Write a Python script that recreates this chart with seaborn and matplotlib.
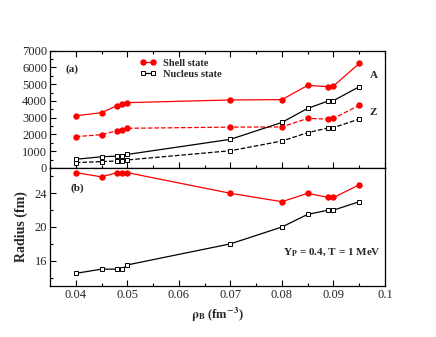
import numpy as np
import pandas as pd
import matplotlib
matplotlib.use("Agg")
import matplotlib.pyplot as plt
from matplotlib.ticker import MultipleLocator
from matplotlib.lines import Line2D
import seaborn as sns

rho = [0.04, 0.045, 0.048, 0.049, 0.05, 0.07, 0.08, 0.085, 0.089, 0.09, 0.095]
shell_A = [3120, 3300, 3720, 3800, 3900, 4060, 4080, 4930, 4850, 4890, 6240]
shell_Z = [1870, 1990, 2230, 2290, 2370, 2440, 2450, 2960, 2920, 2960, 3740]
nuc_A = [520, 670, 710, 740, 810, 1710, 2720, 3560, 4000, 4020, 4850]
nuc_Z = [320, 380, 420, 440, 480, 1030, 1610, 2110, 2390, 2410, 2920]
shell_R = [26.45, 25.95, 26.45, 26.45, 26.45, 24.0, 23.0, 24.0, 23.5, 23.5, 25.0]
nuc_R = [14.5, 15.0, 15.0, 15.0, 15.5, 18.0, 20.0, 21.5, 22.0, 22.0, 23.0]

sns.set_theme(style="ticks")
plt.rcParams['font.family'] = ['Liberation Serif', 'DejaVu Serif']
plt.rcParams['mathtext.fontset'] = 'stix'
plt.rcParams['xtick.direction'] = 'in'
plt.rcParams['ytick.direction'] = 'in'

fig = plt.figure(figsize=(4.36, 3.37), dpi=100)
L, R = 50/436, 385/436
ax1 = fig.add_axes([L, 1-168/337, R-L, (168-50.7)/337])
ax2 = fig.add_axes([L, 1-286/337, R-L, (286-168)/337])

df = pd.DataFrame({"rho": rho, "shell_A": shell_A, "shell_Z": shell_Z,
                   "nuc_A": nuc_A, "nuc_Z": nuc_Z, "shell_R": shell_R, "nuc_R": nuc_R})

red = '#ff0000'
circ = dict(marker='o', markersize=4.6, markeredgewidth=0, color=red, linewidth=0.9)
sq = dict(marker='s', markersize=3.4, markerfacecolor='white', markeredgecolor='black',
          markeredgewidth=0.7, color='black', linewidth=0.9)

sns.lineplot(data=df, x="rho", y="shell_A", ax=ax1, estimator=None, sort=False, **circ)
sns.lineplot(data=df, x="rho", y="shell_Z", ax=ax1, estimator=None, sort=False, linestyle='--', **circ)
sns.lineplot(data=df, x="rho", y="nuc_A", ax=ax1, estimator=None, sort=False, **sq)
sns.lineplot(data=df, x="rho", y="nuc_Z", ax=ax1, estimator=None, sort=False, linestyle='--', **sq)
sns.lineplot(data=df, x="rho", y="shell_R", ax=ax2, estimator=None, sort=False, **circ)
sns.lineplot(data=df, x="rho", y="nuc_R", ax=ax2, estimator=None, sort=False, **sq)

for ax in (ax1, ax2):
    ax.set_xlim(0.035, 0.1)
    ax.xaxis.set_major_locator(MultipleLocator(0.01))
    ax.xaxis.set_minor_locator(MultipleLocator(0.005))
    for s in ax.spines.values():
        s.set_linewidth(0.9)
        s.set_color('black')
    ax.tick_params(which='major', length=4, width=0.8, labelsize=9, pad=2, color='black')
    ax.tick_params(which='minor', length=2, width=0.8, color='black')
    ax.set_xlabel('')
    ax.set_ylabel('')

ax1.set_ylim(0, 7000)
ax1.yaxis.set_major_locator(MultipleLocator(1000))
ax1.yaxis.set_minor_locator(MultipleLocator(500))
ax1.tick_params(axis='x', which='both', top=True, labelbottom=False)

ax2.set_ylim(13, 27)
ax2.yaxis.set_major_locator(MultipleLocator(4))
ax2.yaxis.set_minor_locator(MultipleLocator(2))
ax2.set_yticks([16, 20, 24])
ax2.set_xticks([0.04, 0.05, 0.06, 0.07, 0.08, 0.09, 0.1])
ax2.set_xticklabels(['0.04', '0.05', '0.06', '0.07', '0.08', '0.09', '0.1'])

ax2.set_ylabel('Radius (fm)', fontsize=10, fontweight='bold', labelpad=5)
ax2.set_xlabel(r'$\mathbf{\rho}_\mathbf{B}$ (fm$^{\mathbf{-3}}$)', fontsize=9, fontweight='bold', labelpad=4)

bold = dict(fontweight='bold', fontsize=8)
ax1.text(0.045, 0.84, '(a)', transform=ax1.transAxes, ha='left', va='center', **bold)
ax1.text(0.955, 0.79, 'A', transform=ax1.transAxes, ha='left', va='center', **bold)
ax1.text(0.955, 0.47, 'Z', transform=ax1.transAxes, ha='left', va='center', **bold)
ax2.text(0.06, 0.83, '(b)', transform=ax2.transAxes, ha='left', va='center', **bold)
ax2.text(0.695, 0.29, r'Y$_\mathbf{P}$ = 0.4, T = 1 MeV', transform=ax2.transAxes,
         ha='left', va='center', **bold)

h1 = Line2D([], [], **circ)
h2 = Line2D([], [], **sq)
ax1.legend([h1, h2], ['Shell state', 'Nucleus state'], loc='upper left',
           bbox_to_anchor=(0.255, 0.97), frameon=False, numpoints=2, handlelength=1.6,
           handletextpad=0.6, labelspacing=0.15, borderaxespad=0,
           prop=dict(family='Liberation Serif', weight='bold', size=7.5))

fig.savefig('out.png', dpi=100)
